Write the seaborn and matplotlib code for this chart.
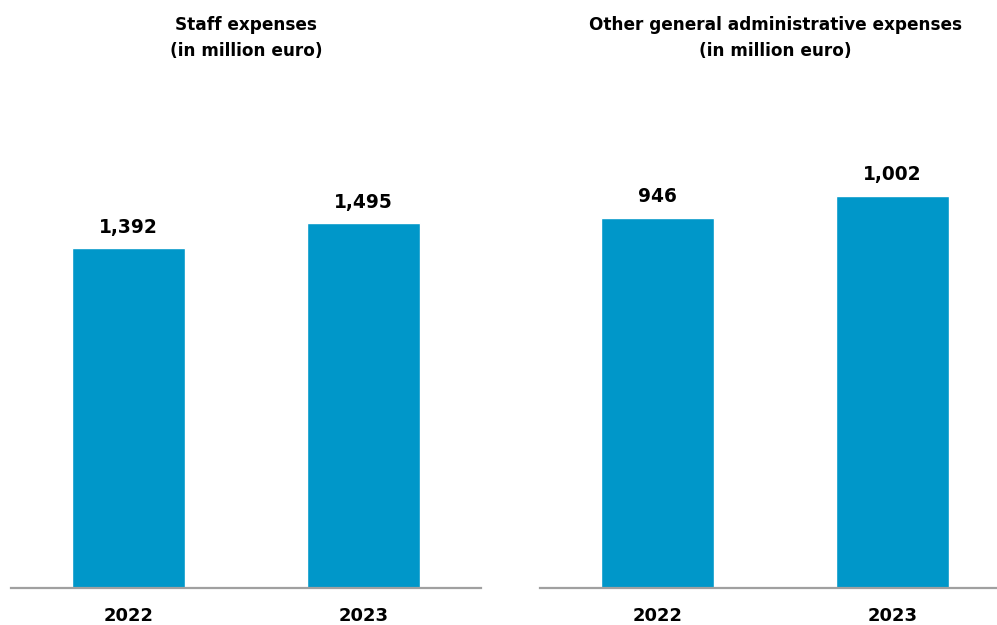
import matplotlib
matplotlib.use("Agg")
import matplotlib.pyplot as plt
import seaborn as sns
import pandas as pd

# Data (million euro)
years = ["2022", "2023"]
staff_expenses = [1392, 1495]
other_admin_expenses = [946, 1002]

titles = [
    "Staff expenses\n(in million euro)",
    "Other general administrative expenses\n(in million euro)",
]

BAR_COLOR = "#0097C9"
AXIS_COLOR = "#A0A0A0"

sns.set_theme(style="white")
plt.rcParams["font.family"] = ["DejaVu Sans"]
plt.rcParams["font.weight"] = "bold"

W, H = 997, 625
fig = plt.figure(figsize=(W / 100, H / 100), dpi=100)
fig.patch.set_facecolor("white")


def add_axes_px(x0, x1, y0, y1):
    return fig.add_axes([x0 / W, 1 - y1 / H, (x1 - x0) / W, (y1 - y0) / H])


ax_left = add_axes_px(11, 481, 90, 587.5)
ax_right = add_axes_px(540, 1010, 90, 587.5)

panels = [
    (ax_left, staff_expenses, 2040, titles[0]),
    (ax_right, other_admin_expenses, 1272, titles[1]),
]

for ax, values, ymax, title in panels:
    df = pd.DataFrame({"year": years, "value": values})
    sns.barplot(data=df, x="year", y="value", color=BAR_COLOR, saturation=1,
                width=0.485, ax=ax)
    ax.set_xlim(-0.5, 1.5)
    ax.set_ylim(0, ymax)
    ax.set_xlabel("")
    ax.set_ylabel("")
    ax.set_yticks([])
    for side in ("top", "left", "right"):
        ax.spines[side].set_visible(False)
    ax.spines["bottom"].set_color(AXIS_COLOR)
    ax.spines["bottom"].set_linewidth(1.6)
    ax.tick_params(axis="x", length=0, pad=14, labelsize=13)
    for lbl in ax.get_xticklabels():
        lbl.set_fontweight("bold")
        lbl.set_color("black")
    for i, v in enumerate(values):
        ax.annotate(f"{v:,}", xy=(i, v), xytext=(0, 15), textcoords="offset points",
                    ha="center", va="center", fontsize=13.4, fontweight="bold",
                    color="black")
    # Centered two-line title above each panel
    bbox = ax.get_position()
    cx = (bbox.x0 + bbox.x1) / 2
    fig.text(cx, 1 - 38 / H, title, ha="center", va="center", fontsize=12.2,
             fontweight="bold", color="black", linespacing=1.5)

fig.savefig("out.png", dpi=100, facecolor="white")
